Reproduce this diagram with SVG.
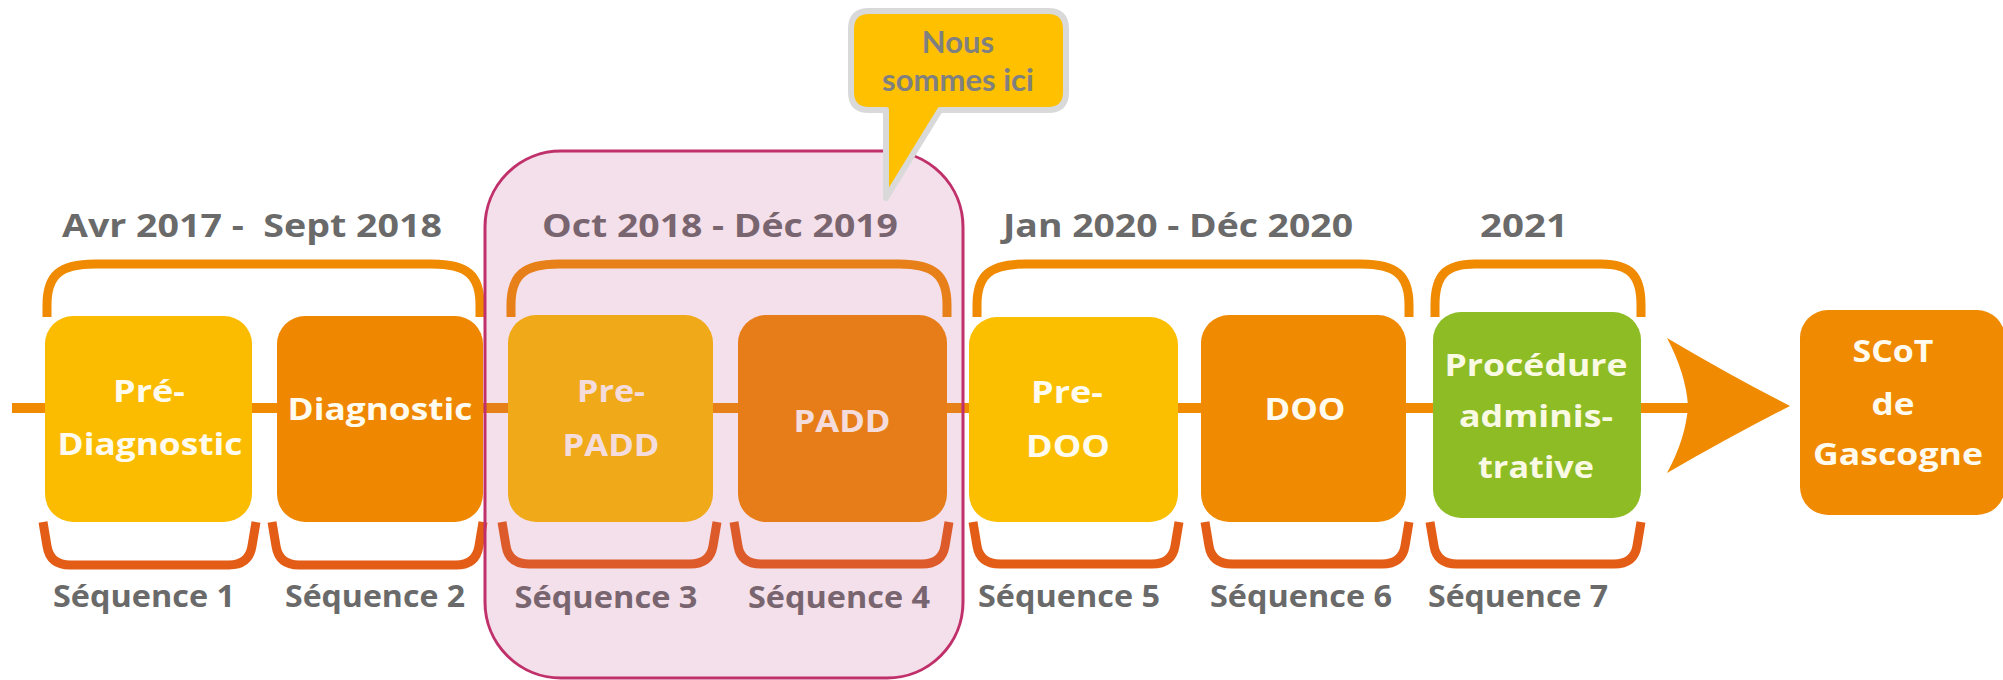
<svg xmlns="http://www.w3.org/2000/svg" width="2003" height="680" viewBox="0 0 2003 680">
<defs>
<style>
.date{font-family:"Open Sans","Liberation Sans",sans-serif;font-weight:700;font-size:33px;fill:#6A6A6A;text-anchor:middle}
.seq{font-family:"Open Sans","Liberation Sans",sans-serif;font-weight:700;font-size:30px;fill:#6A6A6A;text-anchor:middle}
.lbl{font-family:"Open Sans","Liberation Sans",sans-serif;font-weight:700;font-size:31px;fill:#FFFBEE;text-anchor:middle}
.topb{fill:none;stroke:#F08A00;stroke-width:9}
.botb{fill:none;stroke:#E35D16;stroke-width:9}
.call{font-family:Lato,"Liberation Sans",sans-serif;font-weight:700;font-size:31px;fill:#808080;text-anchor:middle}
</style>
</defs>
<rect width="2003" height="680" fill="#FFFFFF"/>
<g id="connectors">
<rect x="12" y="403" width="1680" height="10" fill="#F08A00"/>
<path d="M1667,338 Q1733,377 1790,406 Q1733,435 1667,473 Q1686,438 1688,406 Q1686,374 1667,338 Z" fill="#F08A00"/>
</g>
<g id="brackets-top">
<path class="topb" d="M47,317 L47,305 C47,275 60,264 95,264 L432,264 C467,264 480,275 480,305 L480,317"/>
<path class="topb" d="M511,317 L511,305 C511,275 524,264 559,264 L899,264 C934,264 947,275 947,305 L947,317"/>
<path class="topb" d="M977,317 L977,305 C977,275 990,264 1025,264 L1361,264 C1396,264 1409,275 1409,305 L1409,317"/>
<path class="topb" d="M1435,317 L1435,305 C1435,275 1446,264 1475,264 L1601,264 C1630,264 1641,275 1641,305 L1641,317"/>
</g>
<g id="brackets-bottom">
<path class="botb" d="M43,522 L47,546 Q50,565 70,565 L229,565 Q249,565 252,546 L256,522"/>
<path class="botb" d="M272,522 L276,546 Q279,565 299,565 L456,565 Q476,565 479,546 L483,522"/>
<path class="botb" d="M502,522 L506,546 Q509,564 529,564 L690,564 Q710,564 713,546 L717,522"/>
<path class="botb" d="M734,522 L738,546 Q741,564 761,564 L922,564 Q942,564 945,546 L949,522"/>
<path class="botb" d="M973,522 L977,546 Q980,564 1000,564 L1152,564 Q1172,564 1175,546 L1179,522"/>
<path class="botb" d="M1205,522 L1209,546 Q1212,564 1232,564 L1382,564 Q1402,564 1405,546 L1409,522"/>
<path class="botb" d="M1430,522 L1434,546 Q1437,564 1457,564 L1614,564 Q1634,564 1637,546 L1641,522"/>
</g>
<g id="dates">
<text class="date" x="252" y="237" textLength="380" lengthAdjust="spacingAndGlyphs" xml:space="preserve">Avr 2017 -  Sept 2018</text>
<text class="date" x="720" y="237" textLength="356" lengthAdjust="spacingAndGlyphs">Oct 2018 - Déc 2019</text>
<text class="date" x="1178" y="237" textLength="350" lengthAdjust="spacingAndGlyphs">Jan 2020 - Déc 2020</text>
<text class="date" x="1524" y="237" textLength="88" lengthAdjust="spacingAndGlyphs">2021</text>
</g>
<g id="node-prediagnostic">
<rect x="45" y="316" width="207" height="206" rx="28" fill="#FBBC00"/>
<text class="lbl" x="149" y="402" textLength="72" lengthAdjust="spacingAndGlyphs">Pré-</text>
<text class="lbl" x="150" y="455" textLength="185" lengthAdjust="spacingAndGlyphs">Diagnostic</text>
</g>
<g id="node-diagnostic">
<rect x="277" y="316" width="206" height="206" rx="28" fill="#F08700"/>
<text class="lbl" x="380" y="420" textLength="185" lengthAdjust="spacingAndGlyphs">Diagnostic</text>
</g>
<g id="node-prepadd">
<rect x="508" y="315" width="205" height="207" rx="28" fill="#FBBC00"/>
<text class="lbl" x="611" y="402" textLength="68" lengthAdjust="spacingAndGlyphs">Pre-</text>
<text class="lbl" x="611" y="456" textLength="97" lengthAdjust="spacingAndGlyphs">PADD</text>
</g>
<g id="node-padd">
<rect x="738" y="315" width="209" height="207" rx="28" fill="#F08700"/>
<text class="lbl" x="842" y="432" textLength="97" lengthAdjust="spacingAndGlyphs">PADD</text>
</g>
<g id="node-predoo">
<rect x="969" y="317" width="209" height="205" rx="28" fill="#FBBF00"/>
<text class="lbl" x="1067" y="403" textLength="72" lengthAdjust="spacingAndGlyphs">Pre-</text>
<text class="lbl" x="1068" y="457" textLength="84" lengthAdjust="spacingAndGlyphs">DOO</text>
</g>
<g id="node-doo">
<rect x="1201" y="315" width="205" height="207" rx="28" fill="#F08A00"/>
<text class="lbl" x="1305" y="420" textLength="81" lengthAdjust="spacingAndGlyphs">DOO</text>
</g>
<g id="node-procedure">
<rect x="1433" y="312" width="208" height="206" rx="28" fill="#8DBC25"/>
<text class="lbl" x="1536" y="376" textLength="183" lengthAdjust="spacingAndGlyphs" style="fill:#FAFAE4">Procédure</text>
<text class="lbl" x="1536" y="427" textLength="154" lengthAdjust="spacingAndGlyphs" style="fill:#FAFAE4">adminis-</text>
<text class="lbl" x="1536" y="478" textLength="116" lengthAdjust="spacingAndGlyphs" style="fill:#FAFAE4">trative</text>
</g>
<g id="node-scot">
<rect x="1800" y="310" width="205" height="205" rx="28" fill="#F08A00"/>
<text class="lbl" x="1893" y="362" textLength="81" lengthAdjust="spacingAndGlyphs">SCoT</text>
<text class="lbl" x="1893" y="415" textLength="43" lengthAdjust="spacingAndGlyphs">de</text>
<text class="lbl" x="1898" y="465" textLength="170" lengthAdjust="spacingAndGlyphs">Gascogne</text>
</g>
<g id="sequences">
<text class="seq" x="144" y="607" textLength="182" lengthAdjust="spacingAndGlyphs">Séquence 1</text>
<text class="seq" x="375" y="607" textLength="180" lengthAdjust="spacingAndGlyphs">Séquence 2</text>
<text class="seq" x="606" y="608" textLength="183" lengthAdjust="spacingAndGlyphs">Séquence 3</text>
<text class="seq" x="839" y="608" textLength="182" lengthAdjust="spacingAndGlyphs">Séquence 4</text>
<text class="seq" x="1069" y="607" textLength="182" lengthAdjust="spacingAndGlyphs">Séquence 5</text>
<text class="seq" x="1301" y="607" textLength="182" lengthAdjust="spacingAndGlyphs">Séquence 6</text>
<text class="seq" x="1518" y="607" textLength="180" lengthAdjust="spacingAndGlyphs">Séquence 7</text>
</g>
<g id="highlight">
<rect x="485" y="151" width="478" height="527" rx="76" fill="#C2538B" fill-opacity="0.18" stroke="#C0306A" stroke-width="3"/>
</g>
<g id="callout">
<path d="M869,11 H1048 Q1066,11 1066,29 V92 Q1066,110 1048,110 H940 L886,198 V110 H869 Q851,110 851,92 V29 Q851,11 869,11 Z" fill="#FFC000" stroke="#D9D9D9" stroke-width="6" stroke-linejoin="round"/>
<text class="call" x="958" y="53">Nous</text>
<text class="call" x="958" y="91">sommes ici</text>
</g>
</svg>
